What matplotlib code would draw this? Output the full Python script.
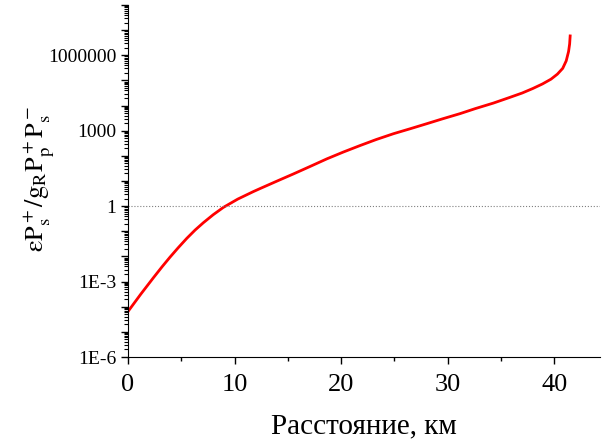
import numpy as np
import matplotlib
matplotlib.use('Agg')
from matplotlib import pyplot as plt
from matplotlib.ticker import FixedLocator, LogLocator, FuncFormatter, MultipleLocator

# distance, km  /  log10 of the ratio
dist = [0.0, 1.2, 2.38, 3.2, 3.94, 4.7, 5.52, 6.3, 7.07, 8.0, 8.95, 10.3, 11.77, 12.4,
        14.11, 15.52, 17.1, 18.66, 20.2, 21.78, 23.3, 24.91, 26.5, 28.05, 29.5, 31.17,
        32.6, 34.3, 35.8, 37.0, 38.0, 38.9, 39.7, 40.3, 40.8, 41.13, 41.35, 41.45, 41.5]
logval = [-4.19, -3.50, -2.85, -2.41, -2.03, -1.66, -1.28, -0.95, -0.66, -0.34, -0.05,
          0.28, 0.58, 0.70, 1.02, 1.28, 1.58, 1.88, 2.15, 2.41, 2.65, 2.88, 3.08, 3.28,
          3.47, 3.68, 3.88, 4.10, 4.32, 4.50, 4.68, 4.86, 5.05, 5.25, 5.48, 5.78, 6.15,
          6.45, 6.77]
ytick_vals = [1e-6, 1e-3, 1, 1e3, 1e6]
ytick_text = ['1E-6', '1E-3', '1', '1000', '1000000']

plt.rcParams['font.family'] = 'Liberation Serif'
plt.rcParams['mathtext.fontset'] = 'stix'

fig = plt.figure(figsize=(6.02, 4.43), dpi=100)
ax = fig.add_axes([128/602, 1-357/443, 472/602, 352/443])

ax.plot(dist, 10**np.array(logval), color='red', lw=2)
ax.axhline(1, color='gray', lw=0.8, ls=':')

ax.set_yscale('log')
ax.set_ylim(1e-6, 1e8)
ax.set_xlim(0, 44.3)

ax.spines['top'].set_visible(False)
ax.spines['right'].set_visible(False)

ax.yaxis.set_major_locator(FixedLocator(10.0**np.arange(-6, 9)))
labs = dict(zip(ytick_vals, ytick_text))
def fmt(v, pos):
    for k in labs:
        if abs(np.log10(v) - np.log10(k)) < 1e-6:
            return labs[k]
    return ''
ax.yaxis.set_major_formatter(FuncFormatter(fmt))
ax.yaxis.set_minor_locator(LogLocator(base=10, subs=np.arange(2, 10), numticks=100))
ax.yaxis.set_minor_formatter(FuncFormatter(lambda v, p: ''))

ax.xaxis.set_major_locator(MultipleLocator(10))
ax.xaxis.set_minor_locator(MultipleLocator(5))

ax.tick_params(axis='y', which='major', labelsize=14, length=5, width=1)
ax.tick_params(axis='y', which='minor', length=3, width=0.8)
ax.tick_params(axis='x', which='major', labelsize=19, length=5, width=1, pad=7)
ax.tick_params(axis='x', which='minor', length=3, width=1)

ax.set_xlabel('Расстояние, км', fontsize=21, labelpad=13)
ax.set_ylabel(r'$\mathrm{\varepsilon P_s^+/g_R P_p^+ P_s^-}$', fontsize=19)
ax.yaxis.set_label_coords(-0.15, 0.506)

plt.savefig('out.png', dpi=100)
plt.close()
